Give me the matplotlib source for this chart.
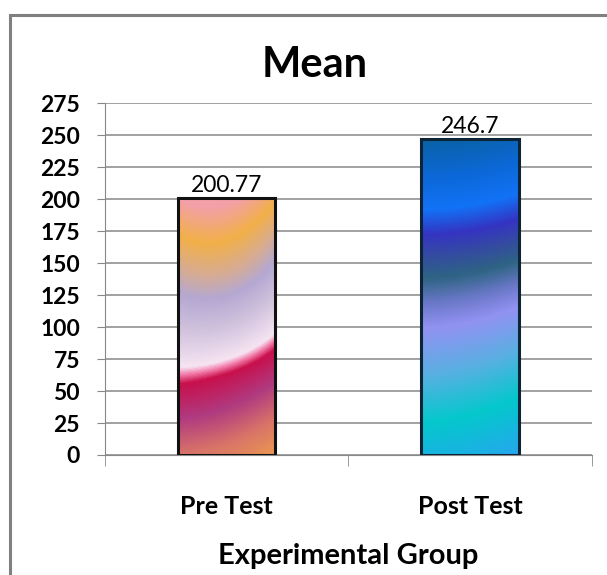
import numpy as np
import matplotlib.pyplot as plt
from matplotlib.colors import LinearSegmentedColormap
from matplotlib.patches import Rectangle

plt.rcParams['font.family'] = ['Lato', 'DejaVu Sans']

categories = ['Pre Test', 'Post Test']
means = [200.77, 246.7]
mean_labels = ['200.77', '246.7']
yticks = list(range(0, 276, 25))

# gradient colour stops for the two bars, position measured down the left edge
TMAX = 1.2
pre_stops = [(0.0, '#f4a0a8'), (0.14, '#f2b048'), (0.26, '#d8ac90'), (0.37, '#b4a8d2'),
             (0.50, '#cfc0dc'), (0.66, '#f6e4f2'), (0.69, '#f27aa8'), (0.725, '#c8104c'),
             (0.86, '#b03a80'), (1.0, '#d87468'), (1.2, '#f2a848')]
post_stops = [(0.0, '#0a62a8'), (0.12, '#0c68d8'), (0.22, '#1272f6'), (0.30, '#3434c2'),
              (0.37, '#344ca0'), (0.44, '#2e6484'), (0.52, '#6a78c8'), (0.60, '#9292f2'),
              (0.75, '#58b0e2'), (0.90, '#04c8cc'), (1.08, '#26a6ee'), (1.2, '#26a6ee')]


def gradient(stops, a_top, b_top, a_bot, b_bot, n=300):
    cmap = LinearSegmentedColormap.from_list('g', [(p / TMAX, c) for p, c in stops])
    v, u = np.mgrid[0:1:n * 1j, 0:1:80j]
    w = np.clip((v - 0.3) / 0.4, 0, 1)
    a = a_top + (a_bot - a_top) * w
    b = b_top + (b_bot - b_top) * w
    t = v + a * u + b * u ** 2
    return cmap(np.clip(t / TMAX, 0, 1))


fig = plt.figure(figsize=(6.07, 5.75), dpi=100)
ax = fig.add_axes([0.173, 0.2087, 0.802, 0.612])

width = 0.40
x = np.arange(len(categories))
grads = [gradient(pre_stops, -0.21, 0.34, 0.032, 0.108),
         gradient(post_stops, 0.0, 0.05, 0.02, 0.06)]
for i, val in enumerate(means):
    ax.imshow(grads[i], extent=(x[i] - width / 2, x[i] + width / 2, 0, val),
              aspect='auto', zorder=2, interpolation='bilinear')
    ax.text(x[i], val + 1.5, mean_labels[i], ha='center', va='bottom', fontsize=16.5,
            zorder=4)
ax.bar(x, means, width=width, facecolor='none', edgecolor=['#111111', '#0c2436'],
       linewidth=2.2, zorder=3)

ax.set_xlim(-0.5, 1.5)
ax.set_ylim(0, 275)
ax.set_yticks(yticks)
ax.set_yticklabels([str(t) for t in yticks], fontsize=16.5, fontweight='bold')
ax.yaxis.grid(True, color='#888888', linewidth=1.1)
ax.set_axisbelow(True)
ax.tick_params(axis='y', length=6, color='#888888', pad=12)

ax.set_xticks(x)
ax.set_xticklabels(categories, fontsize=18, fontweight='bold')
ax.set_xticks([-0.5, 0.5, 1.5], minor=True)
ax.tick_params(axis='x', which='major', length=0, pad=29)
ax.tick_params(axis='x', which='minor', length=8, color='#888888')
ax.set_xlabel('Experimental Group', fontsize=21, fontweight='bold', labelpad=18)

for s in ['top', 'right']:
    ax.spines[s].set_visible(False)
for s in ['left', 'bottom']:
    ax.spines[s].set_color('#888888')

fig.text(0.519, 0.866, 'Mean', ha='center', va='baseline', fontsize=30,
         fontweight='bold')

fig.add_artist(Rectangle((0.0165, -0.2), 1.3, 0.974 + 0.2, transform=fig.transFigure,
                         fill=False, edgecolor='#808080', linewidth=2.2))

fig.savefig('out.png', dpi=100)
